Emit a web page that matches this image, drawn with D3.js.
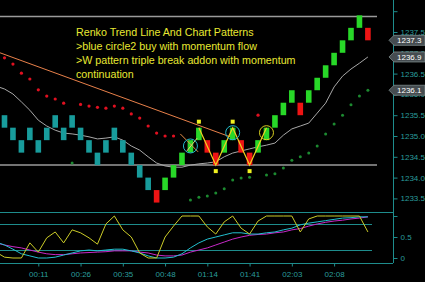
<!DOCTYPE html>
<html>
<head>
<meta charset="utf-8">
<script src="https://cdn.jsdelivr.net/npm/d3@7"></script>
<style>
  html, body { margin: 0; padding: 0; background: #000; }
  svg { display: block; }
</style>
</head>
<body>
<div id="chart"></div>
<script>
// renko bricks: top price of each brick, and its colour kind
const brickTop = [1235.5, 1235.2, 1234.9, 1235.2, 1234.9, 1235.2, 1235.5, 1235.2, 1235.5, 1235.2,
  1234.9, 1234.6, 1234.9, 1235.2, 1234.9, 1234.6, 1234.3, 1234.0, 1233.7, 1234.0,
  1234.3, 1234.6, 1234.9, 1235.2, 1234.9, 1234.6, 1234.9, 1235.2, 1234.9, 1234.6,
  1234.9, 1235.2, 1235.5, 1235.8, 1236.1, 1235.8, 1236.1, 1236.4, 1236.7, 1237.0,
  1237.3, 1237.6, 1237.9, 1237.6];
const brickKind = ["t","t","t","t","t","t","t","t","t","t","t","t","t","t","t","t","t","t",
  "r","g","g","g","g","g","r","r","g","g","r","r","g","g","g","g","g","r",
  "g","g","g","g","g","g","g","r"];
const brickSize = 0.3;

// moving average, index -1 .. 43
const maLine = [1236.2, 1236.13, 1236.01, 1235.82, 1235.62, 1235.38, 1235.24, 1235.14, 1235.07, 1235.05,
  1235.02, 1234.98, 1234.93, 1234.95, 1234.98, 1234.90, 1234.76, 1234.66, 1234.50, 1234.35,
  1234.28, 1234.25, 1234.25, 1234.30, 1234.33, 1234.35, 1234.38, 1234.50, 1234.59, 1234.64,
  1234.69, 1234.74, 1234.78, 1234.83, 1235.02, 1235.17, 1235.24, 1235.31, 1235.55, 1235.79,
  1236.18, 1236.44, 1236.61, 1236.75, 1236.9];

// stop dots, index 0 .. 43
const redDots = [1236.88, 1236.73, 1236.51, 1236.37, 1236.11, 1235.96, 1235.89, 1235.79, null, 1235.76,
  1235.72, 1235.69, 1235.67, 1235.72, 1235.67, 1235.53, 1235.43, 1235.24, 1235.07, 1235.0,
  1235.0, null, null, null, null, null, null, null, null, null,
  1235.5, null, null, null, null, null, null, null, null, null,
  null, null, null, null];
const greenDots = [null, null, null, null, null, null, null, null, 1234.35, null,
  null, null, null, null, null, null, null, null, null, null,
  null, null, 1233.46, 1233.53, 1233.56, 1233.63, 1233.73, 1233.94, 1233.99, 1234.01,
  null, 1234.06, 1234.09, 1234.23, 1234.42, 1234.50, 1234.59, 1234.76, 1235.05, 1235.29,
  1235.50, 1235.75, 1235.96, 1236.1];

// trend line and W pattern
const trendLine = [[-0.53, 1237.0], [26.7, 1234.98]];
const wPattern = [[23, 1235.2], [25, 1234.3], [27, 1235.2], [29, 1234.3], [31, 1235.2]];
const wMarkUp = [23, 27];
const wMarkDown = [25, 29];
const crossA = [[20.8, 1235.05], [22.9, 1234.62]];
const crossB = [[21.5, 1234.62], [22.8, 1234.95]];
const circles = [[22, 1234.76, "#22b8c8"], [27, 1235.08, "#22b8c8"], [31, 1235.08, "#d8d020"]];
const levels = [1237.87, 1234.3];

const priceTicks = [1233.5, 1234.0, 1234.5, 1235.0, 1235.5, 1236.0, 1236.5, 1237.0, 1237.5, 1238.0];
const priceMarks = [1237.3, 1236.9, 1236.1];

// oscillator, index -1 .. 43
const oscYellow = [0.14, 0.02, 0, 0, 0.36, 0.14, 0.48, 0.62, 0.36, 0.67, 0.6, 0.48, 0.33, 0.81, 1.0,
  0.67, 0.5, 0.12, 0, 0, 0.5, 0.76, 1, 1, 1, 0.74, 0.57, 0.86, 1, 0.71, 0.57, 0.88, 1, 1, 1, 1,
  0.62, 0.93, 1, 1, 1, 1, 1, 1, 0.62];
const oscCyan = [0.38, 0.31, 0.21, 0.1, 0.05, 0, 0, 0.02, 0.07, 0.12, 0.17, 0.19, 0.17, 0.19, 0.21,
  0.21, 0.17, 0.12, 0.05, 0, 0, 0.02, 0.1, 0.24, 0.36, 0.45, 0.5, 0.55, 0.6, 0.6, 0.57, 0.57, 0.6,
  0.62, 0.67, 0.71, 0.79, 0.83, 0.86, 0.89, 0.92, 0.95, 0.96, 0.98, 0.98];
const oscMagenta = [0.36, 0.31, 0.27, 0.24, 0.19, 0.14, 0.1, 0.08, 0.08, 0.1, 0.12, 0.13, 0.14, 0.15,
  0.17, 0.17, 0.17, 0.14, 0.12, 0.07, 0.05, 0.05, 0.07, 0.14, 0.19, 0.24, 0.31, 0.38, 0.45, 0.5,
  0.54, 0.56, 0.57, 0.6, 0.62, 0.67, 0.7, 0.76, 0.81, 0.85, 0.88, 0.9, 0.93, 0.95, 0.98];
const oscLevels = [0.8, 0.2];
const oscTicks = [0, 0.5, 1];

const timeTicks = [4, 9, 14, 19, 24, 29, 34, 39];
const timeLabels = ["00:11", "00:26", "00:35", "00:48", "01:14", "01:41", "02:03", "02:08"];

const noteLines = ["Renko Trend Line And Chart Patterns",
  ">blue circle2 buy with momentum flow",
  ">W pattern triple break addon with momentum",
  "continuation"];

const W = 425, H = 282;
const axisX = 393;
const teal = "#1e8c8c";
const tealText = "#2a9c9c";
const font = "'Liberation Sans', Arial, sans-serif";
const kindColor = { t: "#189c9c", g: "#28d828", r: "#ee1414" };

const svg = d3.select("#chart").append("svg")
  .attr("width", W)
  .attr("height", H)
  .style("background-color", "#000");

const x = d3.scaleLinear().domain([0, 43]).range([4.5, 367.9]);
const y = d3.scaleLinear().domain([1233.5, 1237.5]).range([198.4, 32]);
const yo = d3.scaleLinear().domain([0, 1]).range([258, 216]);

svg.append("clipPath").attr("id", "top-clip")
  .append("rect").attr("x", 0).attr("y", 0).attr("width", axisX).attr("height", 210);
svg.append("clipPath").attr("id", "osc-clip")
  .append("rect").attr("x", 0).attr("y", 210).attr("width", axisX).attr("height", 54);

const upper = svg.append("g").attr("clip-path", "url(#top-clip)");

// level lines
upper.selectAll(".level").data(levels).enter().append("line")
  .attr("x1", 0).attr("x2", 377)
  .attr("y1", d => y(d)).attr("y2", d => y(d))
  .style("stroke", "#9a9a9a").style("stroke-width", 1.5);

// note text
upper.append("g").selectAll("text").data(noteLines).enter().append("text")
  .attr("x", 76).attr("y", (d, i) => 36 + i * 14)
  .style("font-family", font).style("font-size", "10.7px")
  .style("fill", "#e8e832")
  .text(d => d);

const priceLine = d3.line().x(d => x(d[0])).y(d => y(d[1]));

// moving average
upper.append("path")
  .datum(maLine.map((v, i) => [i - 1, v]))
  .attr("d", priceLine)
  .style("fill", "none").style("stroke", "#a8a8a8").style("stroke-width", 1);

// trend line
upper.append("path")
  .datum(trendLine)
  .attr("d", priceLine)
  .style("fill", "none").style("stroke", "#e8804a").style("stroke-width", 1);

// stop dots
upper.selectAll(".red-dot").data(redDots.map((v, i) => [i, v]).filter(d => d[1] !== null))
  .enter().append("circle")
  .attr("cx", d => x(d[0])).attr("cy", d => y(d[1])).attr("r", 1.6)
  .style("fill", "#e01020");
upper.selectAll(".green-dot").data(greenDots.map((v, i) => [i, v]).filter(d => d[1] !== null))
  .enter().append("circle")
  .attr("cx", d => x(d[0])).attr("cy", d => y(d[1])).attr("r", 1.5)
  .style("fill", "#1c8a30");

// bricks
upper.selectAll(".brick").data(brickTop).enter().append("rect")
  .attr("x", (d, i) => x(i) - 2.8)
  .attr("y", d => y(d))
  .attr("width", 5.6)
  .attr("height", d => y(d - brickSize) - y(d))
  .style("fill", (d, i) => kindColor[brickKind[i]]);

// W pattern
upper.append("path")
  .datum(wPattern)
  .attr("d", priceLine)
  .style("fill", "none").style("stroke", "#f0d020").style("stroke-width", 1.2);
upper.append("path").datum(crossA).attr("d", priceLine)
  .style("fill", "none").style("stroke", "#e8904a").style("stroke-width", 1);
upper.append("path").datum(crossB).attr("d", priceLine)
  .style("fill", "none").style("stroke", "#e8d070").style("stroke-width", 1);

upper.selectAll(".mark-up").data(wMarkUp).enter().append("rect")
  .attr("x", d => x(d) - 2).attr("y", d => y(brickTop[d]) - 8)
  .attr("width", 4).attr("height", 4)
  .style("fill", "#f0f020");
upper.selectAll(".mark-down").data(wMarkDown).enter().append("rect")
  .attr("x", d => x(d) - 2).attr("y", d => y(brickTop[d] - brickSize) + 4)
  .attr("width", 4).attr("height", 4)
  .style("fill", "#f0f020");

upper.selectAll(".ring").data(circles).enter().append("circle")
  .attr("cx", d => x(d[0])).attr("cy", d => y(d[1])).attr("r", 7)
  .style("fill", "none").style("stroke", d => d[2]).style("stroke-width", 1);

// price axis
svg.append("line")
  .attr("x1", axisX + 0.5).attr("x2", axisX + 0.5).attr("y1", 0).attr("y2", 263)
  .style("stroke", teal);

const yAxis = svg.append("g")
  .attr("transform", `translate(${axisX + 0.5}, 0)`)
  .call(d3.axisRight(y).tickValues(priceTicks).tickSize(4).tickPadding(3)
    .tickFormat(d => d >= 1238 ? "" : d3.format(".1f")(d)));
yAxis.select(".domain").remove();
yAxis.selectAll("line").style("stroke", teal);
yAxis.selectAll("text")
  .style("fill", tealText).style("font-family", font).style("font-size", "8px");

// last price markers
const marks = svg.append("g").selectAll("g").data(priceMarks).enter().append("g")
  .attr("transform", d => `translate(0, ${y(d)})`);
marks.append("path")
  .attr("d", "M389,0 L394,-5 L425,-5 L425,5 L394,5 Z")
  .style("fill", "#454c50").style("stroke", "#7d8c8c").style("stroke-width", 0.8);
marks.append("text")
  .attr("x", 397).attr("y", 3)
  .style("fill", "#ffffff").style("font-family", font).style("font-size", "8px")
  .text(d => d3.format(".1f")(d));

// oscillator panel
const osc = svg.append("g");
osc.append("line")
  .attr("x1", 0).attr("x2", axisX).attr("y1", 212.5).attr("y2", 212.5)
  .style("stroke", teal);
osc.append("line")
  .attr("x1", 0).attr("x2", axisX).attr("y1", 263.5).attr("y2", 263.5)
  .style("stroke", teal);
osc.selectAll(".osc-level").data(oscLevels).enter().append("line")
  .attr("x1", 0).attr("x2", 372)
  .attr("y1", d => Math.round(yo(d)) + 0.5).attr("y2", d => Math.round(yo(d)) + 0.5)
  .style("stroke", teal);

const oscLine = d3.line().x((d, i) => x(i - 1)).y(d => yo(d));
const oscLines = osc.append("g").attr("clip-path", "url(#osc-clip)");
[[oscMagenta, "#c828c8"], [oscCyan, "#22c0d0"], [oscYellow, "#cccc28"]].forEach(([vals, c]) => {
  oscLines.append("path")
    .datum(vals)
    .attr("d", oscLine)
    .style("fill", "none").style("stroke", c).style("stroke-width", 1);
});

const oAxis = svg.append("g")
  .attr("transform", `translate(${axisX + 0.5}, 0)`)
  .call(d3.axisRight(yo).tickValues(oscTicks).tickSize(4).tickPadding(3)
    .tickFormat(d => d === 1 ? "" : d3.format("")(d)));
oAxis.select(".domain").remove();
oAxis.selectAll("line").style("stroke", teal);
oAxis.selectAll("text")
  .style("fill", tealText).style("font-family", font).style("font-size", "8px");

// time axis
const xAxis = svg.append("g")
  .attr("transform", "translate(0, 263.5)")
  .call(d3.axisBottom(x).tickValues(timeTicks).tickSize(3).tickPadding(5)
    .tickFormat((d, i) => timeLabels[i]));
xAxis.select(".domain").remove();
xAxis.selectAll("line").style("stroke", teal);
xAxis.selectAll("text")
  .style("fill", tealText).style("font-family", font).style("font-size", "8px");
</script>
</body>
</html>
